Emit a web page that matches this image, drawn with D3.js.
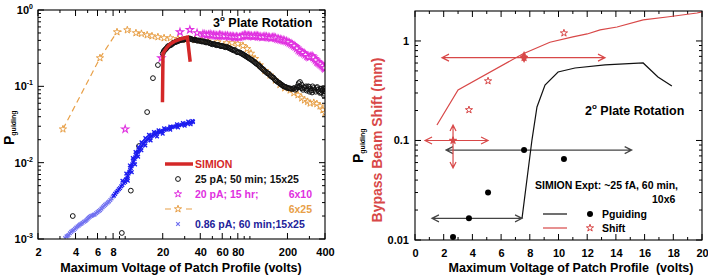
<!DOCTYPE html>
<html>
<head>
<meta charset="utf-8">
<script src="https://cdn.jsdelivr.net/npm/d3@7"></script>
<style>
  body { margin: 0; background: #fff; }
  svg { display: block; font-family: "Liberation Sans", Arial, sans-serif; font-weight: bold; }
</style>
</head>
<body>
<div id="chart"></div>
<script>
// ---------- left panel: 3 deg plate rotation ----------
const simion = [[19.9,0.062],[20.1,0.27],[21.5,0.32],[23,0.36],[25,0.39],[28,0.42],[31.5,0.44],[33.2,0.21]];

// 25 pA; 50 min; 15x25 (open circles)
const pa25 = [[3.8,0.002],[9.4,0.0012],[11.1,0.0043],[12.9,0.0165],[15,0.046],[16.7,0.128],[18.3,0.19],
  [20,0.27],[20.8,0.30],[21.6,0.32],[22.5,0.34],[23.4,0.35],[24.3,0.37],[25.3,0.38],[26.3,0.39],[27.4,0.40],
  [28.5,0.41],[29.6,0.41],[30.8,0.42],[32,0.42],[33.3,0.42],[34.6,0.41],[36,0.41],[37.4,0.40],[38.9,0.40],
  [40.5,0.39],[42.1,0.39],[43.8,0.38],[45.5,0.38],[47.3,0.37],[49.2,0.36],[51.2,0.36],[53.2,0.35],[55.4,0.35],
  [57.6,0.34],[59.9,0.34],[62.3,0.33],[64.8,0.33],[67.4,0.32],[70.1,0.31],[72.9,0.30],[75.8,0.30],[78.8,0.28],
  [82,0.28],[85.3,0.27],[88.7,0.26],[92.2,0.25],[95.9,0.24],[99.7,0.23],[104,0.22],[108,0.21],[112,0.20],
  [117,0.19],[121,0.18],[126,0.17],[131,0.16],[137,0.15],[142,0.145],[148,0.135],[154,0.13],[160,0.12],
  [166,0.115],[173,0.11],[180,0.105],[187,0.10],[194,0.098],[202,0.095],[210,0.094],[219,0.092],[227,0.095],
  [236,0.093],[240,0.10],[246,0.11],[252,0.114],[256,0.096],[260,0.105],[266,0.09],[277,0.095],[282,0.10],
  [288,0.092],[299,0.098],[300,0.085],[311,0.088],[318,0.10],[324,0.095],[337,0.085],[342,0.095],[350,0.09],
  [364,0.082],[370,0.092],[379,0.088],[388,0.095],[394,0.08],[398,0.087],
  [20.4,0.29],[21.2,0.31],[22,0.335],[22.9,0.345],[23.8,0.36],[24.8,0.375],[25.8,0.385],[26.8,0.395],
  [27.9,0.405],[29,0.405],[30.2,0.415],[31.4,0.415],[32.6,0.425],[33.9,0.415],[35.3,0.405],[36.7,0.405],
  [38.1,0.395],[39.7,0.395],[41.3,0.385],[42.9,0.385],[44.6,0.375],[46.4,0.375],[48.2,0.365],[50.2,0.355],
  [52.2,0.355],[54.3,0.345],[56.5,0.345],[58.7,0.335],[61.1,0.335],[63.5,0.325],[66.1,0.325],[68.7,0.315],
  [71.5,0.305],[74.3,0.295],[77.3,0.29],[80.4,0.28],[83.6,0.275],[87,0.265],[90.4,0.255],[94,0.245],
  [97.8,0.235],[102,0.225],[106,0.215],[110,0.205],[114,0.195],[119,0.185],[123,0.175],[128,0.165],
  [134,0.155],[139,0.148],[145,0.14],[151,0.132],[157,0.125],[163,0.118],[170,0.112],[176,0.107],
  [183,0.102],[190,0.099],[198,0.096],[206,0.094],[214,0.093],[223,0.094],[231,0.09],[243,0.097],
  [250,0.1],[262,0.094],[271,0.098],[285,0.088],[294,0.1],[306,0.093],[315,0.083],[330,0.09],[346,0.098],
  [356,0.086],[372,0.083],[384,0.09],[392,0.076],[400,0.092]];

// 20 pA; 15 hr; 6x10 (magenta stars)
const pa20 = [[10,0.0275],[19.5,0.235],[27.5,0.515],[33,0.55],[37.7,0.50],[42,0.485],[45,0.47],[48,0.48],
  [51,0.47],[54,0.46],[57,0.47],[60,0.46],[64,0.46],[68,0.45],[72,0.45],[76,0.44],[80,0.44],[85,0.45],
  [90,0.47],[95,0.46],[100,0.46],[106,0.45],[112,0.46],[118,0.45],[125,0.44],[132,0.45],[140,0.44],[148,0.43],
  [156,0.44],[165,0.42],[175,0.41],[185,0.40],[196,0.39],[208,0.37],[220,0.35],[232,0.33],[245,0.30],
  [258,0.28],[272,0.27],[287,0.25],[300,0.24],[315,0.25],[330,0.23],[345,0.21],[360,0.20],[375,0.19],
  [390,0.18],[400,0.17],
  [43.5,0.48],[46.5,0.475],[49.5,0.47],[52.5,0.465],[55.5,0.46],[58.5,0.465],[62,0.455],[66,0.46],[70,0.45],
  [74,0.445],[78,0.445],[82.5,0.44],[87.5,0.455],[92.5,0.465],[97.5,0.46],[103,0.455],[109,0.455],[115,0.455],
  [121,0.445],[128,0.445],[136,0.445],[144,0.435],[152,0.435],[160,0.43],[170,0.415],[180,0.405],[190,0.395],
  [202,0.38],[214,0.36],[226,0.34],[238,0.315],[251,0.29],[265,0.275],[279,0.26],[293,0.245],[307,0.245],
  [322,0.24],[337,0.22],[352,0.205],[367,0.195],[382,0.185],[395,0.175]];

// 6x25 (orange dashed line with stars)
const x6x25 = [[3.17,0.0275],[6.28,0.235],[8.6,0.515],[10.4,0.547],[12.2,0.50],[13.5,0.49],[15,0.47],
  [16.4,0.456],[18.3,0.443],[20.5,0.43],[23,0.43],[26.5,0.42],[31,0.41],[36.4,0.405],[41,0.40],[46,0.39],
  [55,0.38],[65,0.37],[72,0.37],[80,0.36],[88,0.34],[95,0.31],[102,0.27],[110,0.23],[120,0.19],[132,0.16],
  [145,0.14],[160,0.12],[174,0.105],[190,0.095],[210,0.089],[225,0.082],[243,0.077],[260,0.07],[274,0.066],
  [290,0.063],[304,0.06],[325,0.061],[344,0.059],[365,0.055],[385,0.049],[400,0.045]];

// 0.86 pA; 60 min; 15x25 (blue crosses)
const pa086 = [[3.3,0.00103],[3.45,0.0011],[3.6,0.00119],[3.78,0.00128],[3.96,0.00136],[4.15,0.00146],
  [4.34,0.00155],[4.55,0.00163],[4.8,0.00172],[5.0,0.00184],[5.2,0.00195],[5.45,0.00203],[5.7,0.0021],
  [6.0,0.00225],[6.3,0.00239],[6.6,0.0026],[6.9,0.0028],[7.25,0.003],[7.6,0.00324],[7.95,0.0036],[8.3,0.0039],
  [8.7,0.0043],[9.1,0.00465],[9.5,0.0051],[10.0,0.0056],[10.25,0.0061],[10.5,0.0067],[10.8,0.0076],
  [11.1,0.0085],[11.4,0.0095],[11.7,0.0105],[12.05,0.0118],[12.4,0.013],[12.75,0.0141],[13.1,0.0151],
  [13.6,0.0166],[14.1,0.0181],[14.6,0.0193],[15.2,0.0205],[15.8,0.0215],[16.4,0.0225],[17.2,0.0236],
  [18.0,0.0246],[19.0,0.0253],[20.0,0.026],[21.4,0.0273],[22.9,0.0285],[24.5,0.0296],[26.1,0.0305],
  [28.2,0.0314],[30.3,0.0322],[32.6,0.0331],[34.9,0.034],
  [3.38,0.00108],[3.52,0.00113],[3.69,0.00124],[3.87,0.00131],[4.05,0.00141],[4.25,0.0015],[4.45,0.00158],
  [4.68,0.00168],[4.9,0.00178],[5.1,0.0019],[5.33,0.002],[5.58,0.00207],[5.85,0.00218],[6.15,0.00232],
  [6.45,0.0025],[6.75,0.0027],[7.07,0.0029],[7.42,0.0031],[7.78,0.0034],[8.12,0.0037],[8.5,0.0041],
  [8.9,0.0045],[9.3,0.0049],[9.75,0.0054],[10.1,0.0060],[10.4,0.0064],[10.65,0.0072],[10.95,0.008],
  [11.25,0.009],[11.55,0.0101],[11.9,0.0112],[12.2,0.0125],[12.6,0.0137],[12.9,0.0147],[13.35,0.0159],
  [13.85,0.0174],[14.35,0.0188],[14.9,0.0199],[15.5,0.021],[16.1,0.022],[16.8,0.023],[17.6,0.0241],
  [18.5,0.025],[19.5,0.0257],[20.7,0.0267],[22.1,0.0279],[23.7,0.0291],[25.3,0.03],[27.1,0.031],
  [29.2,0.0318],[31.4,0.0326],[33.7,0.0336],[35,0.0345],
  [9.5,0.0058],[10.2,0.0072],[10.9,0.0092],[11.5,0.0115],[12.1,0.0138],[12.8,0.016],[13.5,0.0185],
  [14.5,0.021],[15.5,0.0232],[17,0.0252],[18.5,0.0266],[20.5,0.0282],[23,0.0298],[26,0.0318],[29,0.0332],
  [32,0.0345],[34.5,0.0352],[10.5,0.0058],[11.3,0.0075],[12,0.0095],[12.7,0.012],[13.5,0.0145],[14.5,0.0168],
  [16,0.0195],[18,0.022],[20,0.024],[23,0.027],[26.5,0.029],[30,0.0305],[33.5,0.0318]];

const leftXLabels = [2,4,6,8,20,40,60,80,200,400];
const leftXMinor = [3,5,7,9,10,30,50,70,90,100,300];
const leftYLabels = [["0",1],["-1",0.1],["-2",0.01],["-3",0.001]];

// ---------- right panel: 2 deg plate rotation ----------
const simionPg = [[7.46,0.0166],[8.15,0.101],[8.5,0.217],[9.06,0.361],[9.97,0.488],[11.15,0.535],
  [13.24,0.574],[15.9,0.601],[16.93,0.435],[17.9,0.353]];
const simionShift = [[1.53,0.143],[3.0,0.322],[7.5,0.74],[9.4,0.97],[11.0,1.097],[12.0,1.176],[12.9,1.29],
  [14.08,1.38],[15.9,1.626],[17.56,1.74],[19.65,1.91],[20,1.96]];
const exptPg = [[2.65,0.0107],[3.76,0.0165],[5.09,0.030],[7.6,0.080],[10.38,0.065]];
const exptShift = [[3.76,0.203],[5.09,0.396],[10.38,1.2]];
const exptShiftFilled = [[2.65,0.1],[7.6,0.68]];
const blackArrows = [[1.18,7.46,0.0165],[2.16,15.1,0.080]];
const redArrowsH = [[0.7,5.09,0.1],[1.88,13.24,0.68]];
const redArrowsV = [[2.65,0.053,0.143],[7.6,0.62,0.77]];
const rightXTicks = [0,2,4,6,8,10,12,14,16,18,20];
const rightYLabels = [[1,"1"],[0.1,"0.1"],[0.01,"0.01"]];

const W = 708, H = 276;
const RED = "#d42828", SRED = "#d84848", MAG = "#e030e0", ORG = "#e8a048", BLU = "#1c1cf0", LBLU = "#7070f0";

const svg = d3.select("#chart").append("svg").attr("width", W).attr("height", H);
svg.append("rect").attr("width", W).attr("height", H).attr("fill", "#fff");

const xL = d3.scaleLog().domain([2, 400]).range([38, 325]);
const yL = d3.scaleLog().domain([1e-3, 1]).range([239, 10]);
const xR = d3.scaleLinear().domain([0, 20]).range([415, 702]);
const yR = d3.scaleLog().domain([0.01, 2]).range([240, 11]);

const logMinor = (lo, hi) => {
  const out = [];
  for (let d = lo; d < hi; d *= 10) for (let k = 2; k <= 9; k++) if (d * k < hi) out.push(d * k);
  return out;
};

function frame(x, y) {
  const [x0, x1] = x.range(), [y0, y1] = y.range();
  svg.append("rect").attr("x", x0).attr("y", y1).attr("width", x1 - x0).attr("height", y0 - y1)
    .attr("fill", "none").attr("stroke", "#000").attr("stroke-width", 1.1);
}

function ticks(x, y, xv, yv, len) {
  const [x0, x1] = x.range(), [y0, y1] = y.range();
  const g = svg.append("g").attr("stroke", "#000").attr("stroke-width", 1);
  xv.forEach(v => {
    g.append("line").attr("x1", x(v)).attr("x2", x(v)).attr("y1", y0).attr("y2", y0 - len);
    g.append("line").attr("x1", x(v)).attr("x2", x(v)).attr("y1", y1).attr("y2", y1 + len);
  });
  yv.forEach(v => {
    g.append("line").attr("y1", y(v)).attr("y2", y(v)).attr("x1", x0).attr("x2", x0 + len);
    g.append("line").attr("y1", y(v)).attr("y2", y(v)).attr("x1", x1).attr("x2", x1 - len);
  });
}

// ---------- left panel axes ----------
ticks(xL, yL, leftXLabels, [1e-3, 1e-2, 1e-1, 1], 6);
ticks(xL, yL, leftXMinor, logMinor(1e-3, 1), 3);

svg.append("g").attr("transform", "translate(0,239)")
  .call(d3.axisBottom(xL).tickValues(leftXLabels).tickSize(0).tickPadding(9).tickFormat(d3.format("d")))
  .call(g => g.select(".domain").remove())
  .selectAll("text").attr("font-size", 11).attr("font-family", "Liberation Sans, Arial").attr("font-weight", "bold");

leftYLabels.forEach(([e, v]) => {
  const t = svg.append("text").attr("x", 33).attr("y", yL(v) + 4).attr("text-anchor", "end").attr("font-size", 11);
  t.append("tspan").text("10");
  t.append("tspan").attr("dy", -5).attr("font-size", 7).text(e);
});

svg.append("text").attr("x", 181).attr("y", 272).attr("text-anchor", "middle").attr("font-size", 12.5)
  .text("Maximum Voltage of Patch Profile (volts)");
const yl = svg.append("text").attr("transform", "translate(14,145) rotate(-90)").attr("font-size", 14);
yl.append("tspan").text("P");
yl.append("tspan").attr("dy", 2).attr("font-size", 7).text("guiding");

const t3 = svg.append("text").attr("x", 213).attr("y", 27).attr("font-size", 12.5);
t3.append("tspan").text("3");
t3.append("tspan").attr("dy", -6).attr("font-size", 8).text("o");
t3.append("tspan").attr("dy", 6).text(" Plate Rotation");

// ---------- left panel data ----------
svg.append("clipPath").attr("id", "clipL").append("rect").attr("x", 38).attr("y", 10).attr("width", 287).attr("height", 229);
const gL = svg.append("g").attr("clip-path", "url(#clipL)");
const lineL = d3.line().x(d => xL(d[0])).y(d => yL(d[1]));
const star = d3.symbol(d3.symbolStar, 16);
const cross = "M-1.8,-1.8L1.8,1.8M-1.8,1.8L1.8,-1.8";

gL.append("path").attr("d", lineL(x6x25)).attr("fill", "none").attr("stroke", ORG)
  .attr("stroke-width", 1.2).attr("stroke-dasharray", "6,4");
gL.selectAll(".o").data(x6x25).join("path").attr("d", star)
  .attr("transform", d => `translate(${xL(d[0])},${yL(d[1])})`).attr("fill", "#fff").attr("stroke", ORG).attr("stroke-width", 1);
gL.selectAll(".m").data(pa20).join("path").attr("d", star)
  .attr("transform", d => `translate(${xL(d[0])},${yL(d[1])})`).attr("fill", "#fff").attr("stroke", MAG).attr("stroke-width", 1.1);
gL.selectAll(".c").data(pa25).join("circle").attr("cx", d => xL(d[0])).attr("cy", d => yL(d[1])).attr("r", 2.4)
  .attr("fill", "none").attr("stroke", "#111").attr("stroke-width", 1);
gL.selectAll(".b").data(pa086).join("path").attr("d", cross)
  .attr("transform", d => `translate(${xL(d[0])},${yL(d[1])})`)
  .attr("stroke", d => d[0] < 8 ? LBLU : BLU).attr("stroke-width", 1.3);
gL.append("path").attr("d", lineL(simion)).attr("fill", "none").attr("stroke", RED).attr("stroke-width", 3.5);

// left legend
const lg = svg.append("g").attr("font-size", 10.5);
lg.append("line").attr("x1", 165).attr("x2", 193).attr("y1", 164).attr("y2", 164).attr("stroke", RED).attr("stroke-width", 3.5);
lg.append("text").attr("x", 195).attr("y", 168).attr("fill", RED).text("SIMION");
lg.append("circle").attr("cx", 178).attr("cy", 179).attr("r", 2.4).attr("fill", "none").attr("stroke", "#111");
lg.append("text").attr("x", 195).attr("y", 183).attr("fill", "#111").text("25 pA; 50 min; 15x25");
lg.append("path").attr("d", star).attr("transform", "translate(178,194)").attr("fill", "#fff").attr("stroke", MAG);
lg.append("text").attr("x", 195).attr("y", 198).attr("fill", MAG).text("20 pA; 15 hr;");
lg.append("text").attr("x", 312).attr("y", 198).attr("text-anchor", "end").attr("fill", MAG).text("6x10");
lg.append("line").attr("x1", 165).attr("x2", 192).attr("y1", 209).attr("y2", 209).attr("stroke", ORG)
  .attr("stroke-width", 1.2).attr("stroke-dasharray", "6,15");
lg.append("path").attr("d", star).attr("transform", "translate(178,209)").attr("fill", "#fff").attr("stroke", ORG);
lg.append("text").attr("x", 312).attr("y", 213).attr("text-anchor", "end").attr("fill", ORG).text("6x25");
lg.append("path").attr("d", cross).attr("transform", "translate(178,224)").attr("stroke", LBLU).attr("stroke-width", 1.2);
lg.append("text").attr("x", 195).attr("y", 228).attr("fill", "#22229a").text("0.86 pA; 60 min;15x25");

// ---------- right panel axes ----------
ticks(xR, yR, rightXTicks, [0.01, 0.1, 1], 6);
ticks(xR, yR, d3.range(1, 20, 2), logMinor(0.01, 2), 3);

svg.append("g").attr("transform", "translate(0,240)")
  .call(d3.axisBottom(xR).tickValues(rightXTicks).tickSize(0).tickPadding(9))
  .call(g => g.select(".domain").remove())
  .selectAll("text").attr("font-size", 11).attr("font-family", "Liberation Sans, Arial").attr("font-weight", "bold");

rightYLabels.forEach(([v, s]) => {
  svg.append("text").attr("x", 409).attr("y", yR(v) + 4).attr("text-anchor", "end").attr("font-size", 11).text(s);
});

svg.append("text").attr("x", 571).attr("y", 272).attr("text-anchor", "middle").attr("font-size", 12.5)
  .attr("xml:space", "preserve").text("Maximum Voltage of Patch Profile  (volts)");
const yl2 = svg.append("text").attr("transform", "translate(363,163) rotate(-90)").attr("font-size", 14);
yl2.append("tspan").text("P");
yl2.append("tspan").attr("dy", 2).attr("font-size", 7).text("guiding");
svg.append("text").attr("transform", "translate(382,140) rotate(-90)").attr("text-anchor", "middle")
  .attr("font-size", 14).attr("fill", SRED).text("Bypass Beam Shift (mm)");

const t2 = svg.append("text").attr("x", 585).attr("y", 115).attr("font-size", 12.5);
t2.append("tspan").text("2");
t2.append("tspan").attr("dy", -6).attr("font-size", 8).text("o");
t2.append("tspan").attr("dy", 6).text(" Plate Rotation");

// ---------- right panel data ----------
const lineR = d3.line().x(d => xR(d[0])).y(d => yR(d[1]));

function arrowH(g, x0, x1, y, color) {
  g.append("path").attr("fill", "none").attr("stroke", color).attr("stroke-width", 1.2)
    .attr("d", `M${x0},${y}H${x1}M${x0 + 7},${y - 3.5}L${x0},${y}L${x0 + 7},${y + 3.5}M${x1 - 7},${y - 3.5}L${x1},${y}L${x1 - 7},${y + 3.5}`);
}
function arrowV(g, x, y0, y1, color) {
  g.append("path").attr("fill", "none").attr("stroke", color).attr("stroke-width", 1.2)
    .attr("d", `M${x},${y0}V${y1}M${x - 3},${y0 - 6}L${x},${y0}L${x + 3},${y0 - 6}M${x - 3},${y1 + 6}L${x},${y1}L${x + 3},${y1 + 6}`);
}

const gR = svg.append("g");
blackArrows.forEach(([a, b, p]) => arrowH(gR, xR(a), xR(b), yR(p), "#444"));
redArrowsH.forEach(([a, b, p]) => arrowH(gR, xR(a), xR(b), yR(p), SRED));
redArrowsV.forEach(([v, lo, hi]) => arrowV(gR, xR(v), yR(lo), yR(hi), SRED));

gR.append("path").attr("d", lineR(simionPg)).attr("fill", "none").attr("stroke", "#111").attr("stroke-width", 1.2);
gR.append("path").attr("d", lineR(simionShift)).attr("fill", "none").attr("stroke", SRED).attr("stroke-width", 1.2);
gR.selectAll(".d").data(exptPg).join("circle").attr("cx", d => xR(d[0])).attr("cy", d => yR(d[1])).attr("r", 3).attr("fill", "#000");
gR.selectAll(".s").data(exptShift).join("path").attr("d", star)
  .attr("transform", d => `translate(${xR(d[0])},${yR(d[1])})`).attr("fill", "#fff").attr("stroke", SRED).attr("stroke-width", 1);
gR.selectAll(".sf").data(exptShiftFilled).join("path").attr("d", star)
  .attr("transform", d => `translate(${xR(d[0])},${yR(d[1])})`).attr("fill", SRED).attr("stroke", SRED).attr("stroke-width", 1);

// right legend
const rg = svg.append("g").attr("font-size", 10.5);
rg.append("text").attr("x", 535).attr("y", 189).text("SIMION");
rg.append("text").attr("x", 575).attr("y", 189).text("Expt: ~25 fA, 60 min,");
rg.append("text").attr("x", 652).attr("y", 203).text("10x6");
rg.append("line").attr("x1", 543).attr("x2", 567).attr("y1", 214).attr("y2", 214).attr("stroke", "#111").attr("stroke-width", 1.2);
rg.append("circle").attr("cx", 590).attr("cy", 214).attr("r", 3).attr("fill", "#000");
rg.append("text").attr("x", 602).attr("y", 218).text("Pguiding");
rg.append("line").attr("x1", 543).attr("x2", 567).attr("y1", 228).attr("y2", 228).attr("stroke", SRED).attr("stroke-width", 1.2);
rg.append("path").attr("d", star).attr("transform", "translate(590,228)").attr("fill", "#fff").attr("stroke", SRED);
rg.append("text").attr("x", 602).attr("y", 232).text("Shift");

frame(xL, yL);
frame(xR, yR);
</script>
</body>
</html>
